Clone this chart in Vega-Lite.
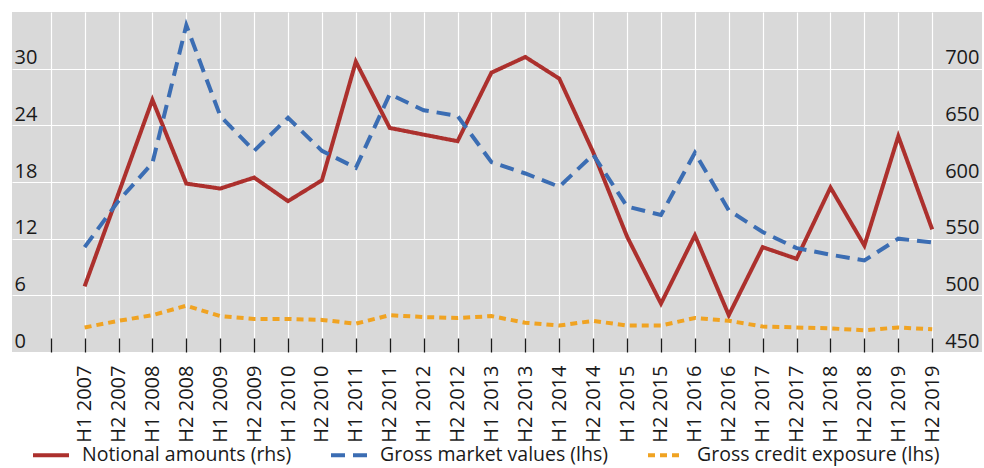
{
  "$schema": "https://vega.github.io/schema/vega-lite/v6.json",
  "width": 970,
  "height": 340,
  "autosize": {"type": "none"},
  "padding": {"left": 12, "top": 12, "right": 2, "bottom": 116},
  "background": "white",
  "config": {
    "view": {"fill": "#D9D9D9", "stroke": null},
    "font": "Open Sans",
    "axis": {"labelFont": "Open Sans", "labelFontSize": 20, "labelColor": "#1a1a1a", "domain": false, "title": null},
    "legend": {"labelFont": "Open Sans", "labelFontSize": 19.5, "labelColor": "#1a1a1a"}
  },
  "datasets": {
    "d": [
      {"period": "H1 2007", "series": "Notional amounts (rhs)", "value": 507.9},
      {"period": "H2 2007", "series": "Notional amounts (rhs)", "value": 590},
      {"period": "H1 2008", "series": "Notional amounts (rhs)", "value": 672.5},
      {"period": "H2 2008", "series": "Notional amounts (rhs)", "value": 598.6},
      {"period": "H1 2009", "series": "Notional amounts (rhs)", "value": 594.2},
      {"period": "H2 2009", "series": "Notional amounts (rhs)", "value": 603.9},
      {"period": "H1 2010", "series": "Notional amounts (rhs)", "value": 583.1},
      {"period": "H2 2010", "series": "Notional amounts (rhs)", "value": 601.5},
      {"period": "H1 2011", "series": "Notional amounts (rhs)", "value": 706.1},
      {"period": "H2 2011", "series": "Notional amounts (rhs)", "value": 647.7},
      {"period": "H1 2012", "series": "Notional amounts (rhs)", "value": 641.8},
      {"period": "H2 2012", "series": "Notional amounts (rhs)", "value": 636},
      {"period": "H1 2013", "series": "Notional amounts (rhs)", "value": 696.5},
      {"period": "H2 2013", "series": "Notional amounts (rhs)", "value": 710.3},
      {"period": "H1 2014", "series": "Notional amounts (rhs)", "value": 691.2},
      {"period": "H2 2014", "series": "Notional amounts (rhs)", "value": 626.3},
      {"period": "H1 2015", "series": "Notional amounts (rhs)", "value": 551.8},
      {"period": "H2 2015", "series": "Notional amounts (rhs)", "value": 492.7},
      {"period": "H1 2016", "series": "Notional amounts (rhs)", "value": 553},
      {"period": "H2 2016", "series": "Notional amounts (rhs)", "value": 482.5},
      {"period": "H1 2017", "series": "Notional amounts (rhs)", "value": 542.5},
      {"period": "H2 2017", "series": "Notional amounts (rhs)", "value": 532.2},
      {"period": "H1 2018", "series": "Notional amounts (rhs)", "value": 595.1},
      {"period": "H2 2018", "series": "Notional amounts (rhs)", "value": 543.9},
      {"period": "H1 2019", "series": "Notional amounts (rhs)", "value": 640.4},
      {"period": "H2 2019", "series": "Notional amounts (rhs)", "value": 558.2},
      {"period": "H1 2007", "series": "Gross market values (lhs)", "value": 11.1},
      {"period": "H2 2007", "series": "Gross market values (lhs)", "value": 16.0},
      {"period": "H1 2008", "series": "Gross market values (lhs)", "value": 20.0},
      {"period": "H2 2008", "series": "Gross market values (lhs)", "value": 34.6},
      {"period": "H1 2009", "series": "Gross market values (lhs)", "value": 25.0},
      {"period": "H2 2009", "series": "Gross market values (lhs)", "value": 21.3},
      {"period": "H1 2010", "series": "Gross market values (lhs)", "value": 24.8},
      {"period": "H2 2010", "series": "Gross market values (lhs)", "value": 21.3},
      {"period": "H1 2011", "series": "Gross market values (lhs)", "value": 19.5},
      {"period": "H2 2011", "series": "Gross market values (lhs)", "value": 27.3},
      {"period": "H1 2012", "series": "Gross market values (lhs)", "value": 25.6},
      {"period": "H2 2012", "series": "Gross market values (lhs)", "value": 25.0},
      {"period": "H1 2013", "series": "Gross market values (lhs)", "value": 20.1},
      {"period": "H2 2013", "series": "Gross market values (lhs)", "value": 18.9},
      {"period": "H1 2014", "series": "Gross market values (lhs)", "value": 17.5},
      {"period": "H2 2014", "series": "Gross market values (lhs)", "value": 20.9},
      {"period": "H1 2015", "series": "Gross market values (lhs)", "value": 15.4},
      {"period": "H2 2015", "series": "Gross market values (lhs)", "value": 14.5},
      {"period": "H1 2016", "series": "Gross market values (lhs)", "value": 21.1},
      {"period": "H2 2016", "series": "Gross market values (lhs)", "value": 15.0},
      {"period": "H1 2017", "series": "Gross market values (lhs)", "value": 12.7},
      {"period": "H2 2017", "series": "Gross market values (lhs)", "value": 11.0},
      {"period": "H1 2018", "series": "Gross market values (lhs)", "value": 10.3},
      {"period": "H2 2018", "series": "Gross market values (lhs)", "value": 9.7},
      {"period": "H1 2019", "series": "Gross market values (lhs)", "value": 12.0},
      {"period": "H2 2019", "series": "Gross market values (lhs)", "value": 11.6},
      {"period": "H1 2007", "series": "Gross credit exposure (lhs)", "value": 2.6},
      {"period": "H2 2007", "series": "Gross credit exposure (lhs)", "value": 3.3},
      {"period": "H1 2008", "series": "Gross credit exposure (lhs)", "value": 3.9},
      {"period": "H2 2008", "series": "Gross credit exposure (lhs)", "value": 4.9},
      {"period": "H1 2009", "series": "Gross credit exposure (lhs)", "value": 3.8},
      {"period": "H2 2009", "series": "Gross credit exposure (lhs)", "value": 3.5},
      {"period": "H1 2010", "series": "Gross credit exposure (lhs)", "value": 3.5},
      {"period": "H2 2010", "series": "Gross credit exposure (lhs)", "value": 3.4},
      {"period": "H1 2011", "series": "Gross credit exposure (lhs)", "value": 3.0},
      {"period": "H2 2011", "series": "Gross credit exposure (lhs)", "value": 3.9},
      {"period": "H1 2012", "series": "Gross credit exposure (lhs)", "value": 3.7},
      {"period": "H2 2012", "series": "Gross credit exposure (lhs)", "value": 3.6},
      {"period": "H1 2013", "series": "Gross credit exposure (lhs)", "value": 3.8},
      {"period": "H2 2013", "series": "Gross credit exposure (lhs)", "value": 3.1},
      {"period": "H1 2014", "series": "Gross credit exposure (lhs)", "value": 2.8},
      {"period": "H2 2014", "series": "Gross credit exposure (lhs)", "value": 3.3},
      {"period": "H1 2015", "series": "Gross credit exposure (lhs)", "value": 2.8},
      {"period": "H2 2015", "series": "Gross credit exposure (lhs)", "value": 2.8},
      {"period": "H1 2016", "series": "Gross credit exposure (lhs)", "value": 3.6},
      {"period": "H2 2016", "series": "Gross credit exposure (lhs)", "value": 3.3},
      {"period": "H1 2017", "series": "Gross credit exposure (lhs)", "value": 2.7},
      {"period": "H2 2017", "series": "Gross credit exposure (lhs)", "value": 2.6},
      {"period": "H1 2018", "series": "Gross credit exposure (lhs)", "value": 2.5},
      {"period": "H2 2018", "series": "Gross credit exposure (lhs)", "value": 2.3},
      {"period": "H1 2019", "series": "Gross credit exposure (lhs)", "value": 2.6},
      {"period": "H2 2019", "series": "Gross credit exposure (lhs)", "value": 2.4}
    ]
  },
  "data": {"name": "d"},
  "encoding": {
    "x": {
      "field": "period",
      "type": "ordinal",
      "sort": null,
      "scale": {
        "type": "point",
        "domain": ["", "H1 2007", "H2 2007", "H1 2008", "H2 2008", "H1 2009", "H2 2009", "H1 2010", "H2 2010", "H1 2011", "H2 2011", "H1 2012", "H2 2012", "H1 2013", "H2 2013", "H1 2014", "H2 2014", "H1 2015", "H2 2015", "H1 2016", "H2 2016", "H1 2017", "H2 2017", "H1 2018", "H2 2018", "H1 2019", "H2 2019", " "],
        "padding": 0.805,
        "align": 0.709
      },
      "axis": {
        "orient": "bottom",
        "values": ["", "H1 2007", "H2 2007", "H1 2008", "H2 2008", "H1 2009", "H2 2009", "H1 2010", "H2 2010", "H1 2011", "H2 2011", "H1 2012", "H2 2012", "H1 2013", "H2 2013", "H1 2014", "H2 2014", "H1 2015", "H2 2015", "H1 2016", "H2 2016", "H1 2017", "H2 2017", "H1 2018", "H2 2018", "H1 2019", "H2 2019"],
        "labelAngle": -90,
        "labelAlign": "right",
        "labelBaseline": "middle",
        "ticks": true,
        "tickSize": -14,
        "tickColor": "#1a1a1a",
        "tickWidth": 1.3,
        "labelPadding": 27,
        "grid": true,
        "gridColor": "#FFFFFF",
        "gridWidth": 1.2
      }
    },
    "color": {
      "field": "series",
      "type": "nominal",
      "scale": {
        "domain": ["Notional amounts (rhs)", "Gross market values (lhs)", "Gross credit exposure (lhs)"],
        "range": ["#AC302D", "#3B6DB3", "#F0A322"]
      },
      "legend": {
        "title": null,
        "orient": "none",
        "legendX": 19,
        "legendY": 423,
        "direction": "horizontal",
        "symbolType": "stroke",
        "symbolSize": 1296,
        "symbolStrokeWidth": 4,
        "labelOffset": 11,
        "columnPadding": 31,
        "padding": 0,
        "labelLimit": 400
      }
    },
    "strokeDash": {
      "field": "series",
      "type": "nominal",
      "scale": {
        "domain": ["Notional amounts (rhs)", "Gross market values (lhs)", "Gross credit exposure (lhs)"],
        "range": [[1, 0], [14, 8], [7, 5]]
      },
      "legend": {
        "title": null,
        "orient": "none",
        "legendX": 19,
        "legendY": 423,
        "direction": "horizontal",
        "symbolType": "stroke",
        "symbolSize": 1296,
        "symbolStrokeWidth": 4,
        "labelOffset": 11,
        "columnPadding": 31,
        "padding": 0,
        "labelLimit": 400
      }
    }
  },
  "layer": [
    {
      "transform": [{"filter": "datum.series === 'Notional amounts (rhs)'"}],
      "mark": {"type": "line", "strokeWidth": 4, "strokeCap": "butt"},
      "encoding": {
        "y": {
          "field": "value",
          "type": "quantitative",
          "scale": {"domain": [450, 750], "nice": false, "zero": false},
          "axis": {
            "orient": "right",
            "values": [450, 500, 550, 600, 650, 700],
            "grid": false,
            "ticks": false,
            "labelAlign": "right",
            "labelBaseline": "alphabetic",
            "labelPadding": -3,
            "labelOffset": -5
          }
        }
      }
    },
    {
      "transform": [{"filter": "datum.series !== 'Notional amounts (rhs)'"}],
      "mark": {"type": "line", "strokeWidth": 4, "strokeCap": "butt"},
      "encoding": {
        "y": {
          "field": "value",
          "type": "quantitative",
          "scale": {"domain": [0, 36], "nice": false},
          "axis": {
            "orient": "left",
            "values": [0, 6, 12, 18, 24, 30],
            "grid": true,
            "gridColor": "#FFFFFF",
            "gridWidth": 1.2,
            "ticks": false,
            "labelAlign": "left",
            "labelBaseline": "alphabetic",
            "labelPadding": -2,
            "labelOffset": -5
          }
        }
      }
    }
  ],
  "resolve": {"scale": {"y": "independent"}}
}
